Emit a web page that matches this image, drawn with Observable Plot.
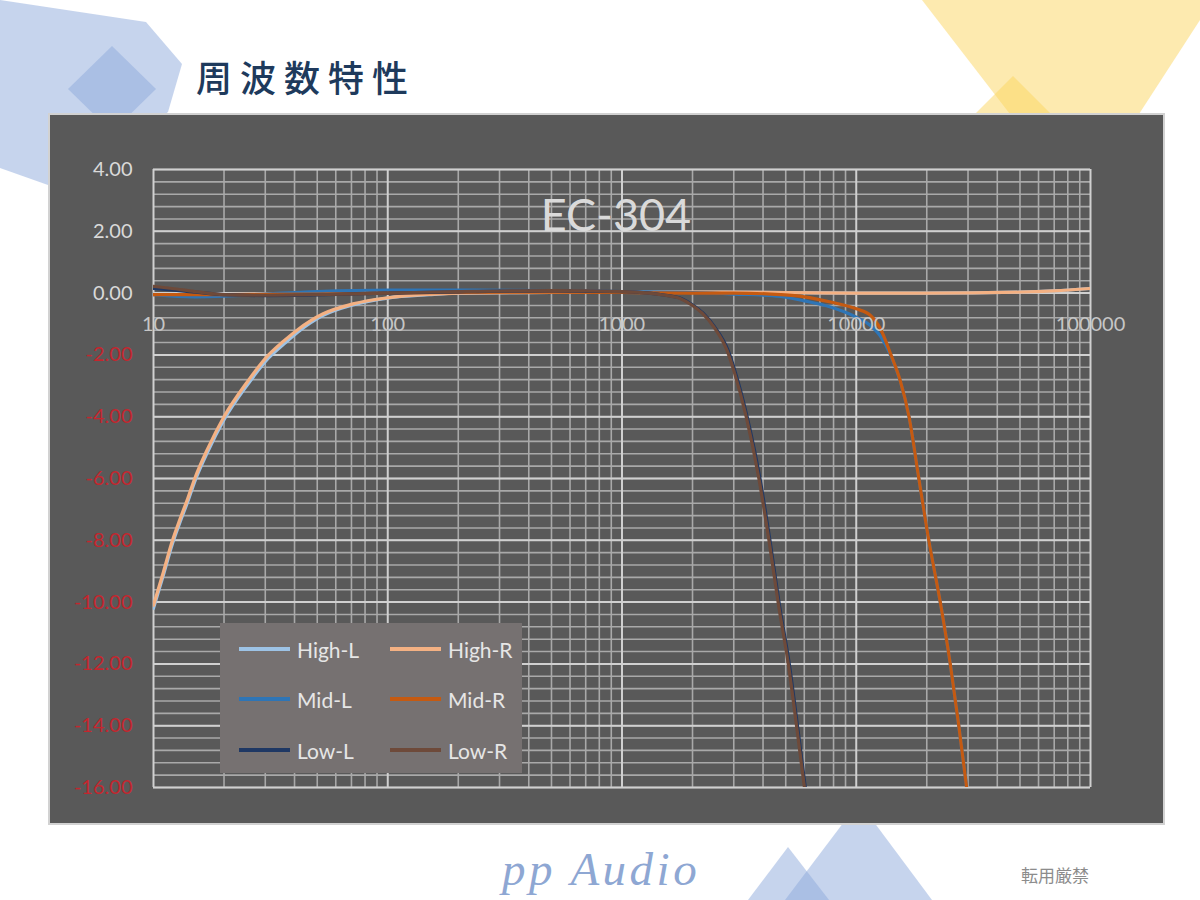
<!DOCTYPE html>
<html>
<head>
<meta charset="utf-8">
<script src="https://cdn.jsdelivr.net/npm/d3@7"></script>
<script src="https://cdn.jsdelivr.net/npm/@observablehq/plot@0.6"></script>
<style>
  html, body { margin: 0; padding: 0; background: #ffffff; }
  #page { position: relative; width: 1200px; height: 900px; overflow: hidden; background: #ffffff; }
  #decor { position: absolute; left: 0; top: 0; }
  #title { position: absolute; left: 196px; top: 58px; font-family: "Noto Sans CJK JP", sans-serif; font-weight: 500; font-size: 36px; line-height: 36px; letter-spacing: 8px; color: #1e3a5c; white-space: nowrap; }
  #chartbox { position: absolute; left: 48px; top: 113px; border: 2px solid #d2d2d2; line-height: 0; }
  #legend { position: absolute; left: 220px; top: 623px; width: 302px; height: 150px; background: #767171; font-family: Lato, "Open Sans", sans-serif; font-size: 21px; color: #e6e6e6; }
  .item { position: absolute; height: 26px; display: flex; align-items: center; }
  .sw { width: 51px; height: 4px; margin-right: 7px; }
  #brand { position: absolute; left: 502px; top: 846px; font-family: "Liberation Serif", "DejaVu Serif", serif; font-style: italic; font-size: 47px; line-height: 46px; letter-spacing: 3.5px; color: #8ea7d3; white-space: nowrap; }
  #note { position: absolute; left: 1021px; top: 864px; font-family: "Noto Sans CJK JP", sans-serif; font-size: 17px; line-height: 22px; color: #8c8c8c; white-space: nowrap; }
</style>
</head>
<body>
<div id="page">
  <svg id="decor" width="1200" height="900"></svg>
  <div id="title">周波数特性</div>
  <div id="chartbox"></div>
  <div id="legend"></div>
  <div id="brand">pp Audio</div>
  <div id="note">転用厳禁</div>
</div>
<script>
// ---- data ----
const seriesNames = ["High-L", "High-R", "Mid-L", "Mid-R", "Low-L", "Low-R"];
const seriesColors = ["#9dc3e6", "#f4b183", "#2e75b6", "#c55a11", "#1f3864", "#6e4a3a"];

const highFreq = [10, 11, 12, 13, 14, 15, 17, 20, 25, 31, 36, 41, 53, 71, 100, 150, 200, 500, 1000, 2000, 5000, 10000, 20000, 50000, 70000, 100000];
const highL = [-10.2, -9.15, -8.15, -7.4, -6.75, -6.1, -5.15, -4.1, -3.0, -2.1, -1.65, -1.28, -0.72, -0.38, -0.16, -0.05, 0.0, 0.02, 0.03, 0.03, 0.02, 0.0, 0.0, 0.03, 0.07, 0.15];
const highR = [-10.1, -9.05, -8.05, -7.3, -6.65, -6.0, -5.05, -4.0, -2.9, -2.0, -1.55, -1.2, -0.67, -0.35, -0.15, -0.04, 0.0, 0.02, 0.03, 0.03, 0.02, 0.0, 0.0, 0.03, 0.07, 0.15];

const midFreq = [10, 15, 20, 30, 50, 100, 200, 500, 1000, 2000, 3000, 4750, 6000, 7770, 10000, 11500, 12700, 14000, 15400, 16800, 18500, 20400, 22900, 25200, 27400, 29600];
const midL = [-0.05, -0.12, -0.1, -0.03, 0.05, 0.1, 0.1, 0.08, 0.05, 0.02, -0.03, -0.11, -0.25, -0.45, -0.78, -1.05, -1.4, -2.0, -2.85, -4.0, -6.0, -8.0, -10.05, -12.0, -14.0, -16.0];
const midR = [-0.05, -0.05, -0.05, -0.04, -0.03, 0.0, 0.02, 0.03, 0.02, 0.0, 0.0, -0.05, -0.12, -0.29, -0.51, -0.72, -1.16, -1.96, -2.83, -4.0, -6.0, -8.0, -10.05, -12.0, -14.0, -16.0];

const lowFreqL = [10, 12, 15, 20, 30, 50, 100, 200, 500, 1000, 1310, 1510, 1800, 2020, 2220, 2490, 2840, 3030, 3420, 3880, 4280, 4700, 5200, 5610, 6060];
const lowL = [0.15, 0.1, 0.03, -0.05, -0.08, -0.06, 0.0, 0.04, 0.07, 0.05, 0.0, -0.06, -0.18, -0.4, -0.65, -1.1, -1.86, -2.5, -4.0, -6.0, -8.0, -10.1, -12.1, -14.0, -16.0];
const lowFreqR = [10, 12, 15, 20, 30, 50, 100, 200, 500, 1000, 1300, 1500, 1780, 2000, 2200, 2470, 2810, 3000, 3390, 3840, 4240, 4660, 5150, 5560, 6010];
const lowR = [0.22, 0.15, 0.05, -0.05, -0.07, -0.05, 0.0, 0.05, 0.08, 0.05, 0.0, -0.06, -0.18, -0.4, -0.65, -1.1, -1.86, -2.5, -4.0, -6.0, -8.0, -10.1, -12.1, -14.0, -16.0];

const xTicks = [10, 100, 1000, 10000, 100000];
const yTicks = [4, 2, 0, -2, -4, -6, -8, -10, -12, -14, -16];
const chartTitle = "EC-304";

// ---- build tables ----
const zip = (fs, vs) => fs.map((f, i) => ({f, db: vs[i]}));
const seriesData = [
  zip(highFreq, highL), zip(highFreq, highR),
  zip(midFreq, midL), zip(midFreq, midR),
  zip(lowFreqL, lowL), zip(lowFreqR, lowR)
];

const xMinor = xTicks.slice(0, -1).flatMap(d => d3.range(2, 10).map(k => d * k));
const yMinor = d3.range(0, 51).map(i => -16 + i * 0.4);

const chart = Plot.plot({
  width: 1113,
  height: 708,
  marginLeft: 103,
  marginRight: 73,
  marginTop: 54,
  marginBottom: 36,
  style: {background: "#595959", fontFamily: "Lato, 'Open Sans', sans-serif", overflow: "visible"},
  x: {type: "log", domain: [10, 100000], axis: null},
  y: {domain: [-16, 4], axis: null},
  marks: [
    Plot.ruleX(xMinor, {stroke: "#a9a9a9", strokeWidth: 1.6}),
    Plot.ruleY(yMinor, {stroke: "#a9a9a9", strokeWidth: 1.6}),
    Plot.ruleY(yTicks, {stroke: "#d0d0d0", strokeWidth: 2}),
    Plot.ruleX(xTicks, {stroke: "#d0d0d0", strokeWidth: 2}),
    ...seriesData.map((data, i) => Plot.line(data, {
      x: "f", y: "db", stroke: seriesColors[i], strokeWidth: 3.2,
      curve: "monotone-x", clip: true
    })),
    Plot.text(yTicks, {
      x: 10, y: d => d, dx: -21, textAnchor: "end", fontSize: 20,
      text: d => d.toFixed(2),
      fill: d => d < 0 ? "#c4262e" : "#d9d9d9"
    }),
    Plot.text(xTicks, {
      x: d => d, y: 0, dy: 31, fontSize: 20, fill: "#c6c6c6",
      text: d => String(d)
    }),
    Plot.text([chartTitle], {
      frameAnchor: "top", dy: 47, dx: -6, fontSize: 45, fill: "#dadada",
      lineAnchor: "middle", text: d => d
    })
  ]
});
document.getElementById("chartbox").appendChild(chart);

// ---- legend ----
const legend = document.getElementById("legend");
const legendPos = [[19, 13], [170, 13], [19, 63], [170, 63], [19, 114], [170, 114]];
seriesNames.forEach((name, i) => {
  const it = document.createElement("div");
  it.className = "item";
  it.style.left = legendPos[i][0] + "px";
  it.style.top = legendPos[i][1] + "px";
  const sw = document.createElement("div");
  sw.className = "sw";
  sw.style.background = seriesColors[i];
  const tx = document.createElement("span");
  tx.textContent = name;
  it.appendChild(sw);
  it.appendChild(tx);
  legend.appendChild(it);
});

// ---- slide decoration ----
const decor = d3.select("#decor");
const blue = "#8eaadb", yellow = "#fcd55f";
const shapes = [
  {pts: [[0,0],[146,22],[182,64],[168,112],[120,150],[48,185],[0,168]], fill: blue},
  {pts: [[68,89],[112,46],[156,89],[112,132]], fill: blue},
  {pts: [[922,0],[1213,0],[1080,205]], fill: yellow},
  {pts: [[1013,76],[1068,131],[1013,186],[958,131]], fill: yellow},
  {pts: [[785,900],[859,802],[932,900]], fill: blue},
  {pts: [[748,900],[788,847],[829,900]], fill: blue}
];
decor.selectAll("polygon").data(shapes).join("polygon")
  .attr("points", d => d.pts.map(p => p.join(",")).join(" "))
  .attr("fill", d => d.fill)
  .attr("fill-opacity", 0.5);
</script>
</body>
</html>
